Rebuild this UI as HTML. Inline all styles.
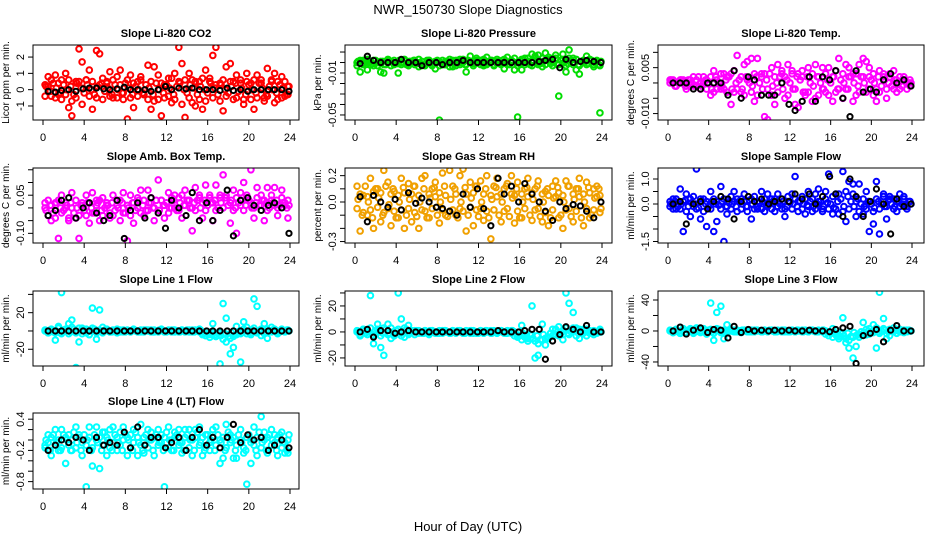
<!DOCTYPE html>
<html><head><meta charset="utf-8">
<style>
html,body{margin:0;padding:0;background:#fff;}
svg{display:block;font-family:"Liberation Sans",sans-serif;}
</style></head>
<body>
<svg id="chart" width="936" height="540" viewBox="0 0 936 540">
<text x="468" y="14" text-anchor="middle" font-size="13">NWR_150730  Slope Diagnostics</text>
<text x="468" y="531" text-anchor="middle" font-size="13">Hour of Day (UTC)</text>
</svg>
<script>
const hoursA = [0.2,0.5,0.8,1.2,1.5,1.8,2.2,2.5,2.8,3.2,3.5,3.8,4.2,4.5,4.8,5.2,5.5,5.8,6.2,6.5,6.8,7.2,7.5,7.8,8.2,8.5,8.8,9.2,9.5,9.8,10.2,10.5,10.8,11.2,11.5,11.8,12.2,12.5,12.8,13.2,13.5,13.8,14.2,14.5,14.8,15.2,15.5,15.8,16.2,16.5,16.8,17.2,17.5,17.8,18.2,18.5,18.8,19.2,19.5,19.8,20.2,20.5,20.8,21.2,21.5,21.8,22.2,22.5,22.8,23.2,23.5,23.8];
const hoursC = [0.3,0.7,1.0,1.3,1.7,2.0,2.3,2.7,3.0,3.3,3.7,4.0,4.3,4.7,5.0,5.3,5.7,6.0,6.3,6.7,7.0,7.3,7.7,8.0,8.3,8.7,9.0,9.3,9.7,10.0,10.3,10.7,11.0,11.3,11.7,12.0,12.3,12.7,13.0,13.3,13.7,14.0,14.3,14.7,15.0,15.3,15.7,16.0,16.3,16.7,17.0,17.3,17.7,18.0,18.3,18.7,19.0,19.3,19.7,20.0,20.3,20.7,21.0,21.3,21.7,22.0,22.3,22.7,23.0,23.3,23.7,23.9];
const hoursB = [0.5,1.2,1.8,2.5,3.2,3.9,4.5,5.2,5.9,6.5,7.2,7.9,8.5,9.2,9.9,10.5,11.2,11.9,12.5,13.2,13.9,14.5,15.2,15.9,16.5,17.2,17.9,18.5,19.2,19.9,20.5,21.2,21.9,22.5,23.2,23.9];
const xTicks = [0,4,8,12,16,20,24];

const co2A = [0.3,0.8,-0.4,0.9,-0.3,0.6,1.0,-1.1,-1.6,0.5,2.5,1.7,0.6,1.2,-1.2,2.4,2.2,0.7,0.4,1.1,-0.5,0.8,1.2,-0.2,-1.8,0.9,-1.1,0.5,0.8,-0.3,1.5,-1.2,1.4,0.9,-1.6,0.3,-0.4,0.7,1.0,2.6,1.6,-1.7,1.0,0.6,-1.0,0.5,-1.2,1.2,0.7,2.1,2.6,0.4,-1.3,1.4,1.6,0.5,0.9,0.6,-0.9,1.0,0.4,-1.2,0.9,0.6,-0.5,1.3,0.5,1.0,-0.6,0.8,-0.4,0.2];
const co2B = [-0.4,0.2,0.6,-0.5,0.4,-0.6,-0.3,0.6,-0.7,-0.5,0.5,-0.9,0.6,-0.4,0.5,-0.5,0.3,-0.6,0.5,-0.4,0.6,-0.5,0.3,-0.6,0.6,-0.5,0.4,-0.4,0.6,-0.3,-0.6,0.5,-0.7,-0.6,0.4,-0.5,0.7,-0.8,-0.6,0.5,-0.9,0.6,-0.5,-0.8,0.5,-0.6,0.7,-0.7,0.5,-0.5,0.3,-0.7,0.6,-0.4,0.5,-0.6,-0.5,0.4,-0.6,0.5,-0.6,0.6,-0.5,0.4,-0.7,-0.4,0.6,-0.8,0.5,-0.5,0.5,-0.3];
const co2C = [0.2,-0.1,0.4,0.1,-0.2,0.3,0.0,0.2,-0.3,0.4,0.1,-0.2,0.3,0.0,-0.3,0.2,0.4,-0.1,0.1,-0.3,0.3,0.0,-0.2,0.4,0.1,-0.3,0.2,0.0,-0.2,0.3,0.1,-0.3,0.4,0.0,-0.2,0.3,0.1,-0.3,0.2,0.4,0.0,-0.2,0.3,0.1,-0.3,0.2,0.0,-0.2,0.4,0.1,-0.3,0.3,0.0,-0.2,0.2,0.4,-0.1,0.1,-0.3,0.3,0.0,-0.2,0.4,0.1,-0.3,0.2,0.0,-0.2,0.3,0.1,-0.3,0.2];
const co2K = [-0.1,-0.15,-0.05,0.0,-0.1,0.05,0.1,0.1,0.05,0.0,0.05,0.15,0.0,0.0,0.0,-0.1,0.0,0.2,0.0,0.1,0.05,0.1,0.0,0.0,0.0,-0.05,0.1,-0.05,0.0,-0.1,0.0,0.0,0.0,0.0,0.0,-0.1];

const presA = [0.0,-0.009,0.002,-0.007,0.001,-0.003,0.000,-0.009,-0.010,0.002,0.001,-0.002,-0.010,0.000,0.003,-0.001,0.000,0.002,-0.004,0.001,-0.002,0.002,-0.003,-0.006,-0.055,-0.002,0.001,-0.004,0.002,-0.003,0.003,0.000,-0.009,0.006,-0.001,0.004,0.002,-0.003,0.005,0.001,-0.002,0.003,0.000,-0.006,0.005,0.002,-0.007,-0.052,-0.007,0.004,0.001,0.008,0.006,0.007,-0.004,0.009,0.003,0.004,0.007,-0.032,0.008,-0.009,0.012,0.004,-0.007,-0.011,0.002,0.006,0.003,-0.004,0.002,-0.048];
const presB = [-0.003,0.002,-0.002,0.003,-0.002,0.002,-0.003,0.001,-0.002,0.003,-0.003,0.002,-0.001,-0.002,0.002,-0.003,0.001,-0.002,0.003,-0.002,-0.003,0.002,-0.002,0.001,-0.003,0.002,-0.002,0.003,-0.004,0.002,-0.002,0.003,-0.002,0.001,-0.003,0.002,-0.002,0.003,-0.002,0.002,-0.003,0.001,-0.002,0.003,-0.002,0.002,0.004,-0.003,0.003,-0.002,0.004,-0.003,0.005,-0.002,0.004,-0.002,0.005,-0.003,0.004,-0.002,0.003,-0.003,0.004,-0.002,0.003,-0.003,0.002,-0.002,0.003,-0.002,0.001,-0.003];
const presC = [0.001,-0.001,0.002,0.0,-0.001,0.002,0.0,0.001,-0.002,0.002,0.0,-0.001,0.002,0.0,-0.002,0.001,0.002,-0.001,0.0,-0.002,0.002,0.0,-0.001,0.002,0.0,-0.002,0.001,0.0,-0.001,0.002,0.0,-0.002,0.002,0.0,-0.001,0.002,0.0,-0.002,0.001,0.002,0.0,-0.001,0.002,0.0,-0.002,0.001,0.0,-0.001,0.002,0.0,-0.002,0.002,0.0,-0.001,0.001,0.002,-0.001,0.0,-0.002,0.002,0.0,-0.001,0.002,0.0,-0.002,0.001,0.0,-0.001,0.002,0.0,-0.002,0.001];
const presK = [-0.001,0.006,0.002,0.0,0.0,0.0,0.003,0.0,0.0,-0.003,0.0,0.0,-0.002,0.0,0.0,0.002,0.0,0.0,0.0,0.0,0.0,0.0,0.0,0.0,0.0,0.0,0.001,0.002,0.003,-0.005,0.003,0.0,0.001,0.002,0.001,0.0];

const tempA = [0.001,0.0,-0.001,0.001,0.0,-0.001,0.001,0.002,-0.001,0.0,0.002,-0.002,-0.004,0.004,0.001,-0.002,0.003,-0.003,-0.007,0.004,0.009,-0.003,0.006,0.007,0.008,-0.006,0.008,0.003,-0.011,-0.012,0.005,-0.007,0.006,0.003,-0.005,0.006,0.004,-0.007,-0.008,0.004,-0.004,0.005,-0.006,0.006,-0.004,0.005,-0.003,0.005,-0.006,0.004,0.008,-0.005,0.006,0.005,-0.006,0.003,0.006,0.008,0.007,0.005,-0.004,-0.006,0.004,0.003,-0.005,0.002,0.004,-0.003,0.002,0.001,-0.002,0.001];
const tempB = [0.0,0.001,-0.001,0.0,0.001,-0.002,0.0,-0.001,0.001,-0.002,0.0,0.001,0.002,-0.003,-0.002,0.003,-0.002,0.002,0.003,-0.003,-0.002,0.002,-0.004,0.001,-0.003,0.003,-0.004,0.002,0.003,-0.002,-0.004,0.002,-0.003,0.004,0.002,-0.004,0.003,-0.002,0.003,0.002,-0.003,-0.003,0.003,-0.005,0.002,-0.002,0.003,-0.004,0.002,-0.003,-0.002,0.003,-0.002,0.002,0.003,-0.004,-0.003,0.002,-0.003,0.002,0.003,-0.002,-0.003,0.002,-0.002,0.003,-0.002,0.001,-0.002,0.002,0.0,-0.001];
const tempC = [0.001,-0.001,0.0,0.001,-0.001,0.001,0.0,-0.001,0.002,-0.001,0.001,0.0,-0.002,0.002,0.0,-0.001,0.001,0.002,-0.002,0.0,0.001,-0.002,0.002,0.0,-0.001,0.002,0.0,-0.002,0.001,0.003,-0.001,0.0,0.002,-0.002,0.001,0.0,-0.002,0.002,0.001,-0.003,0.002,0.0,-0.001,0.002,0.0,-0.002,0.001,0.0,0.002,-0.002,0.001,0.0,-0.002,0.002,0.0,-0.001,0.002,0.0,-0.002,0.001,0.0,0.002,-0.001,0.001,0.0,-0.001,0.001,0.0,-0.001,0.001,0.0,0.0];
const tempK = [0.0,0.0,0.0,-0.002,-0.002,0.0,0.0,0.0,-0.004,0.004,-0.005,0.002,0.001,-0.004,-0.004,-0.004,0.0,-0.007,-0.009,-0.006,0.002,-0.006,0.002,0.001,0.004,-0.005,-0.011,0.004,-0.003,-0.002,-0.003,0.001,0.003,0.0,0.001,-0.001];

const ambA = [0.0,0.03,-0.05,0.02,-0.12,0.05,0.0,-0.05,0.06,-0.04,-0.12,0.02,0.05,-0.06,0.06,0.03,-0.05,0.04,0.01,-0.04,0.05,0.03,-0.05,0.06,-0.13,0.05,-0.06,0.04,0.07,-0.03,0.07,0.02,-0.05,0.11,0.03,-0.04,0.06,0.0,0.05,0.04,-0.04,0.07,0.03,-0.09,0.08,0.05,-0.04,0.09,0.04,-0.05,0.09,0.05,0.13,0.04,-0.06,0.07,-0.10,0.06,0.10,0.04,0.15,-0.04,0.08,0.05,-0.05,0.08,0.03,0.08,-0.03,0.07,0.02,-0.04];
const ambB = [0.02,-0.03,0.01,-0.04,0.03,-0.02,0.02,-0.04,0.0,0.03,-0.03,0.01,-0.03,0.02,-0.02,0.01,0.03,-0.03,0.02,-0.02,-0.03,0.01,0.03,-0.02,0.01,-0.03,0.02,0.0,-0.02,0.03,-0.01,0.04,0.0,-0.02,0.03,0.01,-0.02,0.04,0.0,-0.01,0.05,0.01,0.03,0.0,-0.01,0.04,0.02,-0.01,0.05,0.02,-0.01,0.04,0.0,0.05,0.02,-0.01,0.04,0.01,-0.01,0.05,0.02,0.0,0.04,0.01,0.03,-0.01,0.05,0.01,0.0,0.04,0.01,0.03];
const ambC = [-0.01,0.01,-0.02,0.02,0.0,-0.01,0.01,0.02,-0.02,0.0,0.01,-0.01,0.02,0.0,-0.02,0.02,-0.01,0.0,0.01,0.02,-0.01,0.0,0.02,-0.02,0.0,0.02,-0.01,0.03,0.01,-0.01,0.02,0.0,0.03,-0.01,0.01,0.02,0.0,0.03,-0.01,0.02,0.01,0.03,0.0,0.02,0.03,0.0,0.03,0.01,0.02,0.03,0.0,0.02,0.04,0.01,0.03,0.0,0.02,0.03,0.01,0.03,0.0,0.02,0.01,0.03,0.02,0.0,0.02,0.03,0.01,0.02,0.0,0.01];
const ambK = [-0.03,-0.01,0.03,0.04,-0.04,0.0,0.02,-0.02,-0.05,-0.03,0.03,-0.12,-0.01,0.02,-0.04,0.04,-0.02,-0.08,0.03,0.0,-0.03,0.06,-0.05,0.02,-0.05,-0.01,0.07,-0.11,0.03,0.04,0.01,-0.01,0.01,0.02,0.0,-0.10];

const rhA = [0.12,-0.22,0.05,-0.1,0.18,-0.2,0.1,-0.15,0.24,0.15,-0.18,0.08,-0.12,0.18,-0.2,0.14,-0.15,0.12,-0.2,0.18,0.2,-0.12,0.1,0.15,-0.16,0.22,-0.1,0.24,0.12,-0.1,0.2,0.25,-0.22,0.15,-0.18,0.12,0.16,-0.14,0.2,-0.28,0.12,0.18,-0.15,0.1,0.14,0.2,-0.16,0.15,-0.12,0.1,0.18,-0.14,0.1,0.16,-0.15,0.08,-0.18,0.12,0.16,-0.12,-0.2,0.16,0.12,-0.15,0.1,0.18,-0.18,0.15,-0.12,0.1,0.12,-0.08];
const rhB = [-0.05,0.06,-0.08,0.04,-0.06,0.08,-0.04,0.07,-0.08,-0.05,0.06,-0.07,0.05,-0.06,0.07,-0.05,0.06,-0.08,0.05,-0.06,-0.07,0.06,-0.05,0.04,0.07,-0.06,0.05,-0.07,-0.06,0.06,-0.05,-0.07,0.06,-0.04,0.07,-0.06,-0.05,0.06,-0.07,0.05,-0.06,0.04,0.06,-0.07,-0.05,0.06,0.05,-0.07,0.06,-0.05,0.04,0.07,-0.06,-0.05,0.06,-0.08,0.05,-0.06,0.04,0.07,0.05,-0.06,-0.05,0.06,-0.07,0.04,0.06,-0.05,0.07,-0.06,0.04,0.05];
const rhC = [0.02,-0.1,0.12,0.0,-0.12,0.1,0.03,-0.1,0.12,-0.02,0.1,-0.12,0.0,0.11,-0.1,0.02,0.12,-0.11,0.0,0.1,-0.12,0.03,0.11,-0.1,0.0,0.12,-0.11,0.02,0.1,-0.12,0.0,0.11,-0.1,0.03,0.12,-0.11,0.0,0.1,-0.12,0.02,0.11,-0.1,0.0,0.12,-0.11,0.03,0.1,-0.12,0.0,0.11,-0.1,0.02,0.12,-0.11,0.0,0.1,-0.12,0.03,0.11,-0.1,0.0,0.12,-0.11,0.02,0.1,-0.12,0.0,0.11,-0.1,0.03,0.1,-0.05];
const rhK = [0.04,-0.15,0.05,0.0,-0.04,0.02,-0.06,0.07,-0.01,0.03,0.0,-0.04,-0.05,-0.07,-0.1,0.06,-0.04,0.1,-0.05,-0.18,0.18,0.06,0.12,0.0,0.14,0.06,0.0,-0.07,-0.14,0.0,-0.05,-0.02,-0.03,-0.07,-0.12,0.0];

const sfA = [-0.1,0.2,-0.2,0.6,-1.1,0.4,-0.5,0.3,1.4,-0.6,0.2,-0.9,0.5,-1.1,-0.7,0.7,-1.5,-0.4,0.3,0.5,-0.3,0.2,0.4,-0.3,-0.6,0.3,-0.2,0.5,-0.3,0.4,0.2,-0.3,0.4,-0.2,-0.5,0.3,0.4,1.1,-0.3,0.3,-0.4,0.5,-0.3,0.4,0.6,-0.2,0.5,1.2,-0.4,0.4,-0.4,1.3,-0.7,0.9,0.8,-0.5,0.8,-0.4,0.5,-1.1,-0.8,0.9,-1.2,0.4,-0.6,0.3,0.2,-0.3,0.4,0.3,-0.2,0.1];
const sfB = [0.1,-0.2,0.2,-0.2,0.1,-0.3,0.2,-0.1,-0.2,0.2,-0.3,0.1,-0.2,0.2,0.1,-0.2,0.2,-0.1,-0.2,0.1,0.2,-0.2,0.1,-0.1,0.2,-0.2,0.1,-0.2,0.2,-0.1,-0.2,0.2,-0.1,0.2,-0.2,0.1,-0.2,0.2,0.1,-0.2,0.2,-0.1,0.2,-0.2,0.1,-0.3,0.2,-0.2,0.3,-0.2,0.4,-0.3,0.5,-0.2,0.4,0.1,-0.3,0.2,-0.2,0.1,-0.3,0.2,-0.2,0.3,-0.1,0.2,-0.2,0.2,-0.1,0.2,-0.1,0.1];
const sfC = [0.0,0.1,-0.1,0.0,0.15,-0.1,0.05,0.0,-0.15,0.1,0.0,-0.1,0.1,0.0,-0.05,0.1,-0.1,0.05,0.0,-0.1,0.1,0.0,-0.1,0.15,0.0,-0.1,0.05,0.1,-0.05,0.0,0.1,-0.1,0.0,0.1,-0.1,0.05,0.0,-0.1,0.1,0.0,-0.05,0.1,-0.1,0.0,0.1,-0.1,0.05,0.0,-0.15,0.1,0.2,-0.1,0.3,0.1,-0.1,0.2,0.0,-0.1,0.1,0.0,-0.15,0.1,0.0,-0.1,0.15,0.0,-0.1,0.1,0.0,-0.05,0.1,0.0];
const sfK = [0.0,0.1,-0.8,0.0,0.1,-0.2,0.1,0.3,0.2,-0.6,0.1,0.3,0.1,0.2,0.0,0.1,0.2,0.1,0.4,0.2,0.4,0.0,0.3,1.1,0.4,-0.5,1.0,0.3,-0.5,0.1,0.6,0.0,-1.2,0.2,-0.1,0.0];

const l1A = [0,-2,2,-10,5,42,0,8,12,-40,-12,3,-2,-4,25,-9,23,4,2,-1,0,2,-1,1,0,-1,2,0,-1,1,0,1,-1,0,2,-1,0,1,-1,0,1,0,-1,1,0,2,-3,-5,-4,8,-6,-36,30,14,-25,-18,5,-34,10,4,-4,35,27,-5,8,-8,4,1,-3,2,0,1];
const l1B = [1,-2,1,-2,3,-3,2,-3,4,-2,3,-3,2,-4,3,-2,1,-2,1,-1,1,-2,1,-1,1,-1,1,-1,1,-1,1,-1,1,-1,1,-1,1,-1,1,-1,1,-1,1,-1,1,-1,-4,-5,-7,-3,-6,-2,-9,-12,-8,-6,-4,-3,2,-3,-2,3,-2,2,-3,2,-1,2,-1,1,-1,0];
const l1C = [0,1,-1,0,-2,1,0,-1,2,-1,0,1,-1,0,2,-1,0,1,0,-1,0,1,0,-1,0,1,0,-1,0,1,0,-1,0,1,0,-1,0,1,0,-1,0,1,0,-1,0,1,-2,-3,-1,-4,-2,-5,-3,-6,-2,-4,-1,-2,0,-1,1,-1,0,1,-1,0,1,0,-1,0,1,0];
const l1K = [0,0,0,0,0,0,0,0,0,0,0,0,0,0,0,0,0,0,0,0,0,0,0,0,0,0,0,0,0,0,0,0,0,0,0,0];

const l2A = [0,-3,2,1,28,-9,6,-12,-18,6,-5,-2,30,10,-4,5,0,1,-1,0,1,-1,1,0,-1,1,0,-1,1,0,1,-1,0,1,-1,0,1,-1,0,1,0,-1,1,0,-1,1,0,-3,5,-4,-7,20,-20,-18,6,-10,-5,2,-2,4,-6,30,22,15,3,-5,2,-3,1,-2,0,2];
const l2B = [1,-2,2,-2,3,-3,2,-3,3,-2,3,-3,2,-3,3,-2,1,-2,1,-1,1,-2,1,-1,1,-1,1,-1,1,-1,1,-1,1,-1,1,-1,1,-1,1,-1,1,-1,1,-1,1,-1,-3,-4,-6,-3,-5,-2,-7,-9,-6,-5,-4,-3,2,-3,-2,3,-2,3,-3,2,-1,2,-1,1,-1,0];
const l2C = [0,1,-1,0,-2,1,0,-1,2,-1,0,1,-1,0,2,-1,0,1,0,-1,0,1,0,-1,0,1,0,-1,0,1,0,-1,0,1,0,-1,0,1,0,-1,0,1,0,-1,0,1,-2,-3,-1,-4,-2,-5,-3,-6,-2,-4,-1,-2,0,-1,1,-1,0,1,-1,0,1,0,-1,0,1,0];
const l2K = [0,2,-4,1,1,-1,0,1,0,0,0,0,0,0,0,0,0,0,0,0,1,0,0,0,1,2,2,-21,-7,-2,4,2,0,5,0,0];

const l3A = [0,-2,2,-3,1,-2,3,-1,2,0,2,-1,36,-12,24,32,-10,8,0,1,-1,0,1,0,-1,1,0,-1,1,0,1,-1,0,1,-1,0,1,-1,0,1,0,-1,1,0,-1,1,0,-2,3,-5,-10,17,-15,-22,-35,-20,-8,11,-5,3,8,-22,50,16,-10,-6,4,-3,2,-2,1,0];
const l3B = [1,-2,2,-3,3,-3,2,-3,4,-2,3,-4,2,-3,3,-2,1,-2,1,-1,1,-2,1,-1,1,-1,1,-1,1,-1,1,-1,1,-1,1,-1,1,-1,1,-1,1,-1,1,-1,1,-1,-4,-6,-8,-4,-7,-3,-10,-12,-8,-6,-5,-3,2,-4,-2,4,-3,3,-3,2,-1,2,-1,1,-1,0];
const l3C = [0,1,-1,0,-2,1,0,-1,2,-1,0,1,-1,0,2,-1,0,1,0,-1,0,1,0,-1,0,1,0,-1,0,1,0,-1,0,1,0,-1,0,1,0,-1,0,1,0,-1,0,1,-2,-3,-1,-5,-2,-6,-3,-7,-2,-4,-1,-2,0,-1,1,-1,0,1,-1,0,1,0,-1,0,1,0];
const l3K = [0,5,-4,1,4,-2,2,1,-9,6,-2,2,0,1,0,1,0,1,0,0,1,0,0,-1,2,4,6,-42,-6,-3,2,-14,1,7,0,0];

const l4A = [-0.1,0.1,-0.3,0.2,-0.2,0.2,-0.45,0.1,-0.2,0.25,0.1,-0.3,-0.9,0.25,-0.5,0.25,-0.55,0.15,-0.3,0.2,0.25,-0.2,0.15,0.25,-0.3,0.1,0.2,-0.3,0.3,-0.25,0.2,0.15,-0.3,0.2,0.1,-0.9,0.25,-0.2,0.15,0.2,-0.25,0.2,0.2,-0.3,0.2,0.25,-0.3,0.1,-0.2,0.2,0.25,-0.45,-0.35,0.3,0.1,-0.35,-0.35,0.2,-0.25,-0.85,-0.45,0.25,-0.3,0.45,0.15,-0.25,0.2,0.1,-0.3,0.15,-0.25,-0.25];
const l4B = [-0.15,-0.05,0.05,-0.1,0.0,-0.15,0.05,-0.1,0.0,-0.15,0.05,-0.05,-0.1,0.05,-0.15,0.0,0.05,-0.1,0.05,-0.15,-0.05,0.05,-0.1,0.0,0.05,-0.15,-0.05,0.05,-0.1,0.05,-0.15,0.0,0.05,-0.1,-0.05,0.05,-0.15,0.0,0.05,-0.1,-0.05,0.05,-0.15,0.0,0.05,-0.1,0.05,-0.15,-0.05,0.05,-0.1,0.0,0.05,-0.15,-0.05,0.05,-0.1,0.0,-0.15,0.05,-0.05,-0.1,0.05,-0.15,0.0,0.05,-0.1,-0.05,0.05,-0.15,-0.05,0.0];
const l4C = [0.0,-0.2,0.1,-0.05,-0.2,0.1,0.0,-0.2,0.15,-0.05,-0.2,0.1,0.0,-0.2,0.1,-0.05,-0.2,0.15,0.0,-0.2,0.1,-0.05,-0.2,0.1,0.0,-0.2,0.15,-0.05,-0.2,0.1,0.0,-0.2,0.1,-0.05,-0.2,0.15,0.0,-0.2,0.1,-0.05,-0.2,0.1,0.0,-0.2,0.15,-0.05,-0.2,0.1,0.0,-0.2,0.1,-0.05,-0.2,0.15,0.0,-0.2,0.1,-0.05,-0.2,0.1,0.0,-0.2,0.15,-0.05,-0.2,0.1,0.0,-0.2,0.1,-0.05,-0.2,0.1];
const l4K = [-0.2,-0.1,0.0,-0.05,0.05,0.0,-0.2,0.05,-0.1,-0.05,-0.1,0.15,-0.15,0.25,-0.1,0.05,0.05,-0.15,-0.05,0.05,-0.2,0.05,0.2,-0.1,0.05,-0.15,0.05,0.3,-0.05,0.1,0.0,0.05,-0.2,-0.1,0.0,-0.15];

const panelTitles = ["Slope Li-820 CO2","Slope Li-820 Pressure","Slope Li-820 Temp.","Slope Amb. Box Temp.","Slope Gas Stream RH","Slope Sample Flow","Slope Line 1 Flow","Slope Line 2 Flow","Slope Line 3 Flow","Slope Line 4 (LT) Flow"];
const yTitles = ["Licor ppm per min.","kPa per min.","degrees C per min.","degrees C per min.","percent per min.","ml/min per min.","ml/min per min.","ml/min per min.","ml/min per min.","ml/min per min."];
const yDomains = [[-1.86,2.74],[-0.0548,0.0167],[-0.0121,0.0124],[-0.138,0.157],[-0.311,0.258],[-1.56,1.44],[-38.3,43.7],[-26.2,31.5],[-45.2,51.6],[-0.942,0.519]];
const yTickVals = [[-1,0,1,2],[0.01,0,-0.01,-0.02,-0.03,-0.04,-0.05],[0.01,0.005,0,-0.005,-0.01],[0.15,0.1,0.05,0,-0.05,-0.1],[0.2,0.1,0,-0.1,-0.2,-0.3],[1,0.5,0,-0.5,-1,-1.5],[40,20,0,-20],[30,20,10,0,-10,-20],[40,20,0,-20,-40],[0.4,0.2,0,-0.2,-0.4,-0.6,-0.8]];
const yTickLabels = [["-1","0","1","2"],["","","-0.01","","","","-0.05"],["","0.005","","","-0.010"],["","","0.05","","","-0.10"],["0.2","","0.0","","","-0.3"],["1.0","","0.0","","","-1.5"],["","20","","-20"],["","20","","0","","-20"],["40","","0","","-40"],["0.4","","","-0.2","","","-0.8"]];
const seriesA = [co2A,presA,tempA,ambA,rhA,sfA,l1A,l2A,l3A,l4A];
const seriesB = [co2B,presB,tempB,ambB,rhB,sfB,l1B,l2B,l3B,l4B];
const seriesC = [co2C,presC,tempC,ambC,rhC,sfC,l1C,l2C,l3C,l4C];
const seriesK = [co2K,presK,tempK,ambK,rhK,sfK,l1K,l2K,l3K,l4K];
const colors = ["#ff0000","#00dd00","#ff00ff","#ff00ff","#f0a000","#0000ff","#00ffff","#00ffff","#00ffff","#00ffff"];

const NS = "http://www.w3.org/2000/svg";
const svg = document.getElementById("chart");
const cols = [{l:33,r:299,x0:43,x24:290},{l:345,r:612,x0:355,x24:602},{l:658,r:924,x0:668,x24:912}];
const rows = [{t:45,b:120},{t:168,b:243},{t:291,b:366},{t:413,b:489}];

function mk(tag, attrs, parent){
  const e = document.createElementNS(NS, tag);
  for (const k in attrs) e.setAttribute(k, attrs[k]);
  (parent||svg).appendChild(e);
  return e;
}

for (let p = 0; p < 10; p++) {
  const c = cols[p % 3], r = rows[Math.floor(p / 3)];
  const g = mk("g", {});
  
  
  const xs = h => c.x0 + (c.x24 - c.x0) * h / 24;
  const dom = yDomains[p];
  const ys = v => r.b - (v - dom[0]) / (dom[1] - dom[0]) * (r.b - r.t);

  const title = mk("text", {x: (c.l + c.r) / 2, y: r.t - 8, "text-anchor": "middle", "font-size": 11, "font-weight": "bold"}, g);
  title.textContent = panelTitles[p];
  
  

  const cx = c.l - 24, cy = (r.t + r.b) / 2;
  const yt = mk("text", {x: cx, y: cy, "text-anchor": "middle", "font-size": 10, transform: `rotate(-90 ${cx} ${cy})`}, g);
  yt.textContent = yTitles[p];
  
  

  const clipId = "clip" + p;
  const cp = mk("clipPath", {id: clipId}, g);
  mk("rect", {x: c.l, y: r.t, width: c.r - c.l, height: r.b - r.t}, cp);
  const pts = mk("g", {"clip-path": `url(#${clipId})`}, g);
  [[seriesC[p], hoursC], [seriesB[p], hoursA], [seriesA[p], hoursA]].forEach(([arr, hrs]) => {
    arr.forEach((v, i) => {
      const el = mk("circle", {cx: xs(hrs[i]), cy: ys(v), r: 2.8, fill: "none", stroke: colors[p], "stroke-width": 2}, pts);
      
      
    });
  });
  seriesK[p].forEach((v, i) => {
    const el = mk("circle", {cx: xs(hoursB[i]), cy: ys(v), r: 2.6, fill: "none", stroke: "#000", "stroke-width": 2}, pts);
    
    
  });

  const box = mk("rect", {x: c.l, y: r.t, width: c.r - c.l, height: r.b - r.t, fill: "none", stroke: "#000", "stroke-width": 1}, g);
  
  

  const xa = mk("g", {}, g);
  
  
  mk("line", {x1: xs(0), x2: xs(24), y1: r.b, y2: r.b, stroke: "#000"}, xa);
  xTicks.forEach(t => {
    mk("line", {x1: xs(t), x2: xs(t), y1: r.b, y2: r.b + 5, stroke: "#000"}, xa);
    const tl = mk("text", {x: xs(t), y: r.b + 21, "text-anchor": "middle", "font-size": 11}, xa);
    tl.textContent = t;
    
    
  });

  const ya = mk("g", {}, g);
  
  
  const tv = yTickVals[p];
  mk("line", {x1: c.l, x2: c.l, y1: ys(tv[0]), y2: ys(tv[tv.length - 1]), stroke: "#000"}, ya);
  tv.forEach((t, i) => {
    mk("line", {x1: c.l - 5, x2: c.l, y1: ys(t), y2: ys(t), stroke: "#000"}, ya);
    if (yTickLabels[p][i]) {
      const lx = c.l - 9, ly = ys(t);
      const tl = mk("text", {x: lx, y: ly, "text-anchor": "middle", "font-size": 11, transform: `rotate(-90 ${lx} ${ly})`}, ya);
      tl.textContent = yTickLabels[p][i];
      
      
    }
  });
}
</script>
</body></html>
